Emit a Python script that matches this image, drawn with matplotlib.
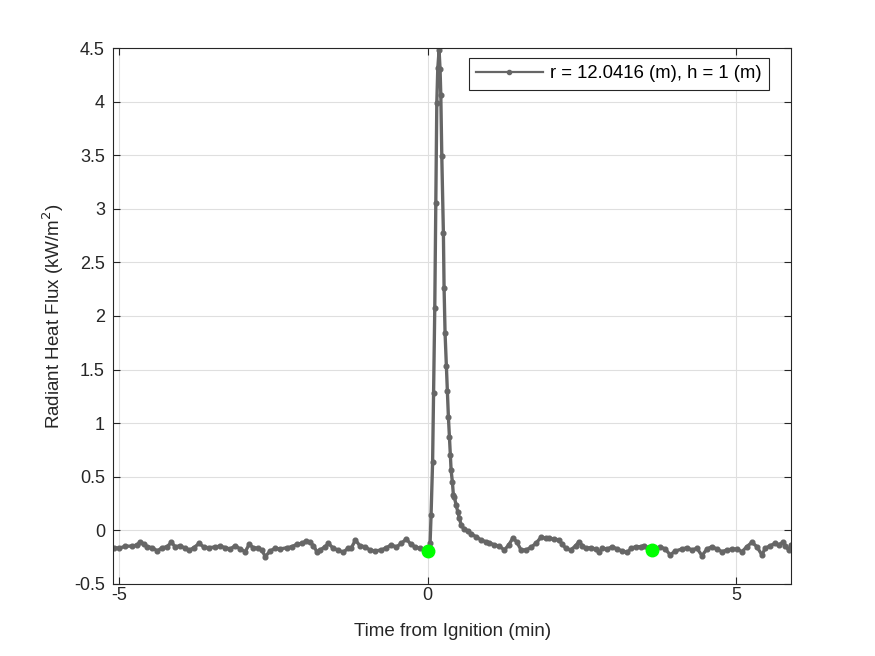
import matplotlib.pyplot as plt

# Datos: tiempo desde la ignicion (min) y flujo radiante (kW/m^2)
tiempo = [-5.083, -5.008, -4.906, -4.792, -4.711, -4.663, -4.603, -4.549, -4.468, -4.387,
          -4.306, -4.225, -4.160, -4.096, -4.015, -3.934, -3.869, -3.792, -3.707, -3.630,
          -3.549, -3.447, -3.366, -3.285, -3.204, -3.123, -3.042, -2.961, -2.896, -2.831,
          -2.750, -2.690, -2.637, -2.556, -2.475, -2.394, -2.285, -2.204, -2.123, -2.042,
          -1.972, -1.908, -1.854, -1.799, -1.746, -1.665, -1.611, -1.535, -1.454, -1.373,
          -1.292, -1.238, -1.173, -1.102, -1.021, -0.940, -0.859, -0.752, -0.671, -0.590,
          -0.509, -0.428, -0.347, -0.276, -0.211, -0.130, -0.049, 0.000, 0.037, 0.053,
          0.078, 0.094, 0.113, 0.130, 0.146, 0.162, 0.183, 0.199, 0.211, 0.227,
          0.253, 0.264, 0.280, 0.301, 0.318, 0.334, 0.350, 0.366, 0.378, 0.399,
          0.415, 0.431, 0.459, 0.486, 0.512, 0.540, 0.593, 0.648, 0.702, 0.783,
          0.864, 0.945, 0.999, 1.080, 1.160, 1.241, 1.313, 1.378, 1.442, 1.512,
          1.593, 1.674, 1.755, 1.836, 1.917, 1.966, 2.047, 2.128, 2.182, 2.237,
          2.318, 2.399, 2.452, 2.506, 2.561, 2.642, 2.723, 2.776, 2.830, 2.911,
          2.992, 3.073, 3.154, 3.235, 3.300, 3.371, 3.452, 3.506, 3.571, 3.636,
          3.770, 3.851, 3.932, 4.013, 4.122, 4.203, 4.284, 4.365, 4.446, 4.527,
          4.608, 4.689, 4.770, 4.851, 4.932, 5.013, 5.094, 5.175, 5.256, 5.337,
          5.418, 5.472, 5.553, 5.634, 5.689, 5.759, 5.796, 5.851, 5.888]
flujo = [-0.161, -0.167, -0.148, -0.146, -0.136, -0.105, -0.130, -0.152, -0.161, -0.192,
         -0.161, -0.152, -0.111, -0.152, -0.143, -0.167, -0.186, -0.161, -0.120, -0.158,
         -0.161, -0.155, -0.146, -0.161, -0.174, -0.143, -0.174, -0.199, -0.130, -0.161,
         -0.167, -0.183, -0.245, -0.192, -0.167, -0.174, -0.161, -0.152, -0.130, -0.120,
         -0.099, -0.111, -0.143, -0.199, -0.183, -0.152, -0.120, -0.167, -0.183, -0.204,
         -0.167, -0.161, -0.090, -0.143, -0.152, -0.183, -0.192, -0.183, -0.161, -0.136,
         -0.155, -0.120, -0.080, -0.130, -0.152, -0.167, -0.192, -0.192, -0.120, 0.144,
         0.640, 1.280, 2.070, 3.050, 3.990, 4.310, 4.480, 4.300, 4.060, 3.490,
         2.770, 2.260, 1.840, 1.530, 1.300, 1.060, 0.870, 0.700, 0.560, 0.450,
         0.330, 0.310, 0.237, 0.175, 0.113, 0.050, 0.010, -0.003, -0.034, -0.059,
         -0.090, -0.106, -0.115, -0.136, -0.146, -0.183, -0.136, -0.073, -0.106, -0.183,
         -0.183, -0.158, -0.120, -0.064, -0.073, -0.074, -0.080, -0.089, -0.130, -0.167,
         -0.183, -0.143, -0.105, -0.143, -0.167, -0.161, -0.174, -0.204, -0.167, -0.174,
         -0.152, -0.174, -0.192, -0.204, -0.167, -0.152, -0.152, -0.143, -0.160, -0.183,
         -0.152, -0.174, -0.229, -0.192, -0.174, -0.161, -0.183, -0.167, -0.236, -0.174,
         -0.152, -0.174, -0.199, -0.183, -0.174, -0.174, -0.199, -0.152, -0.111, -0.152,
         -0.229, -0.167, -0.143, -0.120, -0.136, -0.111, -0.143, -0.183, -0.136]

# Puntos marcados en verde
t_marca = [0.0, 3.64]
q_marca = [-0.19, -0.18]

yticks = [-0.5, 0, 0.5, 1, 1.5, 2, 2.5, 3, 3.5, 4, 4.5]
ytick_labels = ['-0.5', '0', '0.5', '1', '1.5', '2', '2.5', '3', '3.5', '4', '4.5']
xticks = [-5, 0, 5]
xtick_labels = ['-5', '0', '5']

plt.rcParams['font.family'] = ['Liberation Sans', 'DejaVu Sans']

fig = plt.figure(figsize=(8.75, 6.56), dpi=100)
ax = fig.add_axes([0.1295, 0.1098, 0.7745, 0.817])

ax.plot(tiempo, flujo, color='#666666', linewidth=2.4, marker='o', markersize=3.4,
        label='r = 12.0416 (m), h = 1 (m)')
ax.plot(t_marca, q_marca, linestyle='none', marker='o', markersize=9,
        color='#00ff00')

ax.set_xlim(-5.10, 5.89)
ax.set_ylim(-0.5, 4.5)
ax.set_xticks(xticks)
ax.set_xticklabels(xtick_labels)
ax.set_yticks(yticks)
ax.set_yticklabels(ytick_labels)
ax.tick_params(direction='in', top=True, right=True, labelsize=13,
               colors='#262626', length=5, width=0.8)
ax.tick_params(axis='y', pad=6)
ax.tick_params(axis='x', pad=2)
for s in ax.spines.values():
    s.set_color('#262626')
    s.set_linewidth(0.8)
ax.grid(True, color='#dfdfdf', linewidth=0.8)
ax.set_axisbelow(True)

ax.set_xlabel('Time from Ignition (min)', fontsize=13.5, color='#262626', labelpad=14)
ax.set_ylabel('Radiant Heat Flux (kW/m$^2$)', fontsize=13.5, color='#262626', labelpad=6)

leg = ax.legend(loc='upper right', bbox_to_anchor=(0.9675, 0.9813), borderaxespad=0,
                fontsize=13.3, fancybox=False, framealpha=1, edgecolor='#262626',
                handlelength=3.6, handletextpad=0.4, borderpad=0.4)
leg.get_frame().set_linewidth(0.8)
for h in leg.get_lines():
    h.set_linewidth(1.6)
    h.set_markersize(3)

plt.savefig('out.png', dpi=100)
